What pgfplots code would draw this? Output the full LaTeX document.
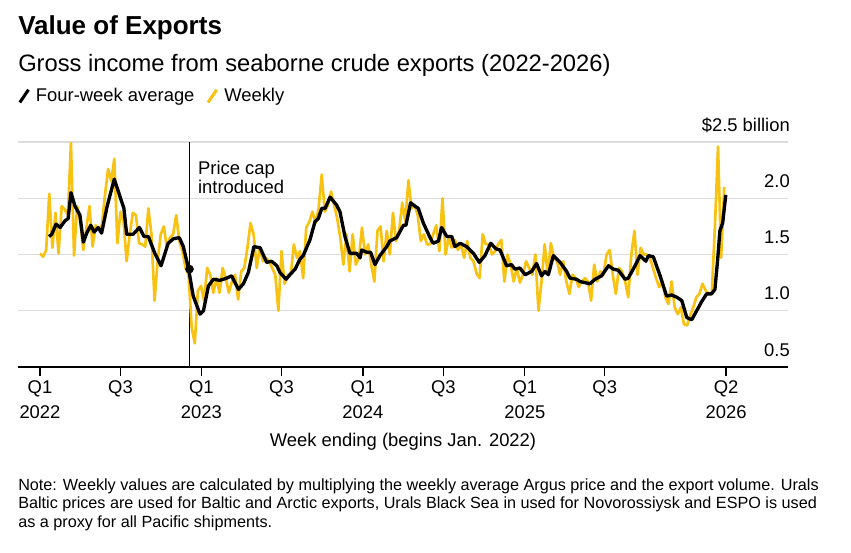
\documentclass[border=0pt]{standalone}
\usepackage{fontspec}
\setmainfont{Liberation Sans}
\usepackage{pgfplots}
\usepackage{pgfplotstable}
\pgfplotsset{compat=1.18}
\definecolor{gold}{RGB}{248,194,18}
\definecolor{gridgray}{RGB}{220,220,220}

\pgfplotstableread{
w v
0 1.51
1 1.48
2 1.54
3 2.04
4 1.56
5 1.87
6 1.51
7 1.93
8 1.90
9 1.85
10 2.49
11 1.49
12 1.93
13 1.79
14 1.54
15 1.74
16 1.93
17 1.57
18 1.76
19 1.72
20 1.76
21 2.03
22 2.26
23 2.15
24 2.35
25 1.60
26 1.88
27 1.79
28 1.44
29 1.68
30 1.87
31 1.85
32 1.60
33 1.59
34 1.57
35 1.91
36 1.68
37 1.09
38 1.44
39 1.68
40 1.75
41 1.56
42 1.65
43 1.68
44 1.85
45 1.62
46 1.53
47 1.38
48 1.32
49 0.85
50 0.71
51 1.18
52 1.22
53 1.09
54 1.38
55 1.32
56 1.16
57 1.29
58 1.16
59 1.38
60 1.29
61 1.16
62 1.26
63 1.32
64 1.10
65 1.35
66 1.38
67 1.56
68 1.78
69 1.68
70 1.38
71 1.56
72 1.44
73 1.47
74 1.44
75 1.38
76 1.32
77 1.00
78 1.53
79 1.24
80 1.32
81 1.32
82 1.59
83 1.47
84 1.53
85 1.29
86 1.74
87 1.79
88 1.88
89 1.78
90 1.91
91 2.21
92 1.88
93 1.94
94 2.06
95 1.94
96 1.82
97 1.65
98 1.41
99 1.68
100 1.35
101 1.68
102 1.41
103 1.47
104 1.74
105 1.50
106 1.59
107 1.41
108 1.26
109 1.71
110 1.75
111 1.44
112 1.71
113 1.50
114 1.87
115 1.62
116 1.71
117 1.96
118 1.79
119 2.16
120 1.91
121 1.94
122 1.85
123 1.62
124 1.68
125 1.59
126 1.59
127 1.68
128 1.76
129 1.53
130 2.00
131 1.50
132 1.65
133 1.56
134 1.63
135 1.54
136 1.59
137 1.47
138 1.62
139 1.47
140 1.44
141 1.33
142 1.29
143 1.68
144 1.59
145 1.59
146 1.50
147 1.53
148 1.59
149 1.63
150 1.26
151 1.50
152 1.41
153 1.26
154 1.38
155 1.25
156 1.32
157 1.44
158 1.38
159 1.32
160 1.50
161 1.00
162 1.26
163 1.59
164 1.32
165 1.60
166 1.47
167 1.44
168 1.32
169 1.44
170 1.26
171 1.15
172 1.32
173 1.29
174 1.21
175 1.26
176 1.29
177 1.26
178 1.09
179 1.41
180 1.26
181 1.35
182 1.32
183 1.50
184 1.54
185 1.32
186 1.15
187 1.38
188 1.35
189 1.26
190 1.12
191 1.50
192 1.71
193 1.32
194 1.56
195 1.50
196 1.50
197 1.47
198 1.38
199 1.29
200 1.21
201 1.26
202 1.12
203 1.06
204 1.26
205 1.03
206 0.97
207 1.03
208 0.88
209 0.87
210 0.96
211 1.03
212 1.12
213 1.15
214 1.24
215 1.18
216 1.15
217 1.16
218 1.75
219 2.46
220 1.47
221 2.10
}\weekly

\pgfplotstableread{
w v
2.9 1.66
3.8 1.68
5.2 1.77
6.5 1.74
8.1 1.80
9.1 1.82
10.0 2.05
11.3 1.93
12.9 1.85
14.0 1.61
15.1 1.69
16.4 1.76
17.5 1.70
18.8 1.74
19.9 1.69
21.7 1.93
24.0 2.17
27.1 1.91
28.0 1.68
30.1 1.68
32.1 1.74
33.6 1.66
35.0 1.66
37.1 1.51
39.1 1.40
41.4 1.60
43.1 1.64
45.0 1.65
46.3 1.57
48.0 1.37
49.5 1.13
51.7 0.97
52.8 1.00
54.4 1.22
56.0 1.28
58.1 1.27
60.3 1.29
61.9 1.31
64.1 1.19
65.7 1.24
67.3 1.34
69.1 1.57
71.1 1.56
73.2 1.43
74.8 1.44
76.5 1.40
77.5 1.34
79.5 1.28
80.7 1.32
82.4 1.37
84.0 1.46
85.0 1.49
87.2 1.63
88.8 1.79
89.9 1.82
91.0 1.91
92.1 1.91
93.7 2.01
95.8 1.94
96.9 1.88
98.5 1.66
100.1 1.51
102.3 1.51
103.4 1.47
103.9 1.54
105.5 1.52
106.8 1.52
108.2 1.41
109.8 1.49
112.0 1.57
113.0 1.62
115.2 1.65
117.4 1.76
118.2 1.76
119.7 1.96
121.1 1.93
122.2 1.91
123.8 1.78
126.0 1.65
127.0 1.60
128.7 1.62
129.7 1.74
131.4 1.66
133.0 1.66
134.0 1.57
135.7 1.60
137.8 1.57
140.0 1.51
141.9 1.43
143.7 1.49
145.6 1.60
147.3 1.55
148.6 1.54
150.7 1.40
152.3 1.41
153.4 1.37
155.0 1.38
156.7 1.32
158.8 1.35
160.4 1.42
162.0 1.31
163.1 1.35
164.2 1.32
165.8 1.49
168.0 1.43
170.1 1.35
171.2 1.29
173.3 1.28
174.4 1.26
177.6 1.24
179.3 1.28
181.4 1.31
183.6 1.40
185.2 1.37
186.8 1.36
189.0 1.28
190.0 1.29
192.2 1.40
193.8 1.49
195.7 1.44
196.5 1.49
198.1 1.48
200.3 1.31
202.4 1.13
204.0 1.14
205.7 1.12
207.3 1.09
208.9 0.94
210.5 0.92
212.1 1.00
213.7 1.08
215.3 1.15
216.9 1.15
218.0 1.19
218.9 1.46
219.6 1.71
220.5 1.78
221.5 2.03
}\avg

\newcommand\bodyfont{\fontsize{13.8pt}{18.75pt}\selectfont}

\begin{document}
\begin{tikzpicture}
\begin{scope}[x=0.75pt,y=-0.75pt]
\path[use as bounding box] (0,0) rectangle (851,553);
\node[anchor=base west,inner sep=0pt,font=\fontsize{19.5pt}{22pt}\selectfont\bfseries] at (18,35) {Value of Exports};
\node[anchor=base west,inner sep=0pt,font=\fontsize{17.8pt}{21pt}\selectfont] at (18,71) {Gross income from seaborne crude exports (2022-2026)};
\node[anchor=base west,inner sep=0pt,font=\fontsize{12.15pt}{14pt}\selectfont] at (18,490) {Note: Weekly values are calculated by multiplying the weekly average Argus price and the export volume. Urals};
\node[anchor=base west,inner sep=0pt,font=\fontsize{12.15pt}{14pt}\selectfont] at (18,508.5) {Baltic prices are used for Baltic and Arctic exports, Urals Black Sea in used for Novorossiysk and ESPO is used};
\node[anchor=base west,inner sep=0pt,font=\fontsize{12.15pt}{14pt}\selectfont] at (18,527) {as a proxy for all Pacific shipments.};
\end{scope}

\begin{axis}[
  at={(13.5pt,-275.25pt)}, anchor=south west,
  scale only axis, width=577.5pt, height=168.75pt,
  xmin=-7.1, xmax=241.6, ymin=0.5, ymax=2.5,
  axis x line*=bottom, axis y line*=right,
  y axis line style={draw=none},
  x axis line style={line width=1.1pt},
  ymajorgrids, grid style={gridgray, line width=1.1pt},
  ytick={0.5,1,1.5,2,2.5},
  yticklabels={0.5,1.0,1.5,2.0,\$2.5 billion},
  ytick style={draw=none},
  yticklabel pos=right,
  yticklabel style={anchor=base east, inner sep=0pt, xshift=-5.2pt, yshift=8.25pt},
  xtick={0,26,52.14,78,104.3,130.3,156.6,182.4,221.6},
  xticklabels={Q1\\2022,Q3,Q1\\2023,Q3,Q1\\2024,Q3,Q1\\2025,Q3,Q2\\2026},
  xticklabel style={align=center, inner sep=0pt, yshift=-3pt},
  tick align=outside,
  major tick length=6.75pt,
  xtick style={black, line width=0.9pt},
  ticklabel style={font=\bodyfont},
  xlabel={Week ending (begins Jan. 2022)},
  xlabel style={font=\bodyfont, yshift=-7.5pt},
  legend style={at={(0,1.204)}, anchor=west, draw=none, fill=none, inner sep=0pt,
    font=\bodyfont,
    /tikz/every odd column/.append style={column sep=2.5pt},
    /tikz/every even column/.append style={column sep=7pt}},
  legend columns=2,
  legend cell align=left,
  legend image code/.code={\draw[#1, line width=2.3pt] (0pt,-4.8pt) -- (6.5pt,4.8pt);},
  clip=false,
]
\addlegendimage{black}
\addlegendentry{Four-week average}
\addlegendimage{gold}
\addlegendentry{Weekly}

\draw[black, line width=0.8pt] (axis cs:48.3,0.5) -- (axis cs:48.3,2.5);
\node[anchor=base west, inner sep=0pt, font=\bodyfont] at (axis cs:51.0,2.207) {Price cap};
\node[anchor=base west, inner sep=0pt, font=\bodyfont] at (axis cs:51.0,2.04) {introduced};

\addplot[gold, line width=2.0pt, line join=round, forget plot] table[x=w,y=v] {\weekly};
\addplot[black, line width=2.5pt, line join=round, forget plot] table[x=w,y=v] {\avg};
\addplot[only marks, mark=*, mark size=3pt, black, forget plot] coordinates {(48.3,1.37)};
\end{axis}
\end{tikzpicture}
\end{document}
